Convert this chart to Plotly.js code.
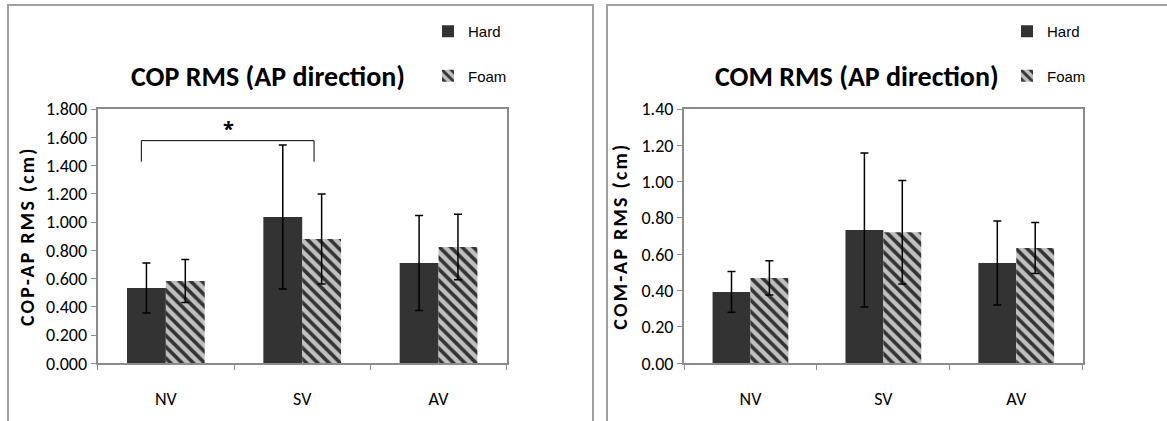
<!DOCTYPE html>
<html>
<head>
<meta charset="utf-8">
<script src="https://cdn.plot.ly/plotly-3.0.1.min.js"></script>
<style>html,body{margin:0;padding:0;background:#fff;}#chart{width:1167px;height:421px;}
text.ytitle, text.y2title {letter-spacing: 2.2px;}</style>
</head>
<body>
<div id="chart"></div>
<script>
// ---- data ----
const categories = ['NV', 'SV', 'AV'];
const seriesNames = ['Hard', 'Foam'];
const copHard = [0.533, 1.036, 0.710];
const copHardSD = [0.177, 0.510, 0.336];
const copFoam = [0.583, 0.880, 0.823];
const copFoamSD = [0.152, 0.318, 0.232];
const comHard = [0.393, 0.734, 0.552];
const comHardSD = [0.112, 0.424, 0.231];
const comFoam = [0.470, 0.721, 0.635];
const comFoamSD = [0.094, 0.285, 0.140];
const titles = ['COP RMS (AP direction)', 'COM RMS (AP direction)'];
const yTitles = ['COP-AP RMS (cm)', 'COM-AP RMS (cm)'];
const sigLabel = '*';

// ---- styles ----
const W = 1167, H = 421;
const px = v => v / W, py = v => 1 - v / H;
const FONT = "Carlito, 'Open Sans', sans-serif";
const tickFont = {family: FONT, size: 18, color: '#000'};
const hardColor = '#333333';
const foamPattern = {shape: '\\', fgcolor: '#333333', bgcolor: '#c0c0c0', size: 8, solidity: 0.45, fillmode: 'replace'};
const errStyle = {type: 'data', visible: true, color: '#000', thickness: 1.5, width: 4};

function hardTrace(y, sd, xa, ya, lg) {
  return {type: 'bar', name: seriesNames[0], x: categories, y: y, xaxis: xa, yaxis: ya,
    marker: {color: hardColor, line: {width: 0}}, legend: lg, legendgroup: lg + 'h',
    error_y: Object.assign({array: sd}, errStyle)};
}
function foamTrace(y, sd, xa, ya, lg) {
  return {type: 'bar', name: seriesNames[1], x: categories, y: y, xaxis: xa, yaxis: ya,
    marker: {color: '#c0c0c0', pattern: foamPattern, line: {width: 0}}, legend: lg, legendgroup: lg + 'f',
    error_y: Object.assign({array: sd}, errStyle)};
}

const data = [
  hardTrace(copHard, copHardSD, 'x', 'y', 'legend'),
  foamTrace(copFoam, copFoamSD, 'x', 'y', 'legend'),
  hardTrace(comHard, comHardSD, 'x2', 'y2', 'legend2'),
  foamTrace(comFoam, comFoamSD, 'x2', 'y2', 'legend2')
];

const xCommon = {type: 'category', showline: true, linecolor: '#8c8c8c', linewidth: 2, mirror: true,
  ticks: 'outside', tickson: 'boundaries', ticklen: 5, tickcolor: '#8c8c8c', tickwidth: 1,
  tickfont: tickFont, ticklabelstandoff: 18, showgrid: false, zeroline: false, fixedrange: true};
const yCommon = {showline: true, linecolor: '#8c8c8c', linewidth: 2, mirror: true,
  ticks: 'outside', ticklen: 5, tickcolor: '#8c8c8c', tickwidth: 1, dtick: 0.2,
  tickfont: tickFont, showgrid: false, zeroline: false, fixedrange: true};
const yTitleFont = {family: FONT, size: 20, color: '#000', weight: 'bold'};

const legendCommon = {font: {family: "'Liberation Sans Narrow', 'Liberation Sans', sans-serif", size: 15, color: '#000'},
  xanchor: 'left', yanchor: 'top', tracegroupgap: 22, bgcolor: 'rgba(0,0,0,0)', itemwidth: 30, traceorder: 'grouped'};

const layout = {
  width: W, height: H,
  margin: {l: 0, r: 0, t: 0, b: 0},
  paper_bgcolor: '#fff', plot_bgcolor: '#fff',
  barmode: 'group', bargap: 0.43, bargroupgap: 0,
  showlegend: true,
  xaxis: Object.assign({domain: [px(97.7), px(506.7)], anchor: 'y'}, xCommon),
  yaxis: Object.assign({domain: [py(363.3), py(109)], anchor: 'x', range: [0, 1.8], tickformat: '.3f',
    title: {text: yTitles[0], font: yTitleFont, standoff: 6}}, yCommon),
  xaxis2: Object.assign({domain: [px(684), px(1082.7)], anchor: 'y2'}, xCommon),
  yaxis2: Object.assign({domain: [py(363.3), py(109)], anchor: 'x2', range: [0, 1.4], tickformat: '.2f',
    title: {text: yTitles[1], font: yTitleFont, standoff: 8}}, yCommon),
  legend: Object.assign({x: px(428), y: py(15)}, legendCommon),
  legend2: Object.assign({x: px(1007), y: py(15)}, legendCommon),
  annotations: [
    {xref: 'paper', yref: 'paper', x: px(268), y: py(77), xanchor: 'center', yanchor: 'middle', text: titles[0], showarrow: false,
      font: {family: FONT, size: 28, color: '#000', weight: 'bold'}},
    {xref: 'paper', yref: 'paper', x: px(857), y: py(77), xanchor: 'center', yanchor: 'middle', text: titles[1], showarrow: false,
      font: {family: FONT, size: 28, color: '#000', weight: 'bold'}},
    {xref: 'x', yref: 'y', x: 0.456, y: 1.66, text: sigLabel, showarrow: false,
      font: {family: "'Open Sans', sans-serif", size: 20, color: '#000', weight: 'bold'}}
  ],
  shapes: [
    // panel borders
    {type: 'rect', xref: 'paper', yref: 'paper', x0: px(8), x1: px(593), y0: py(440), y1: py(5),
      line: {color: '#a0a0a0', width: 2}, fillcolor: 'rgba(0,0,0,0)', layer: 'below'},
    {type: 'rect', xref: 'paper', yref: 'paper', x0: px(607), x1: px(1190), y0: py(440), y1: py(5),
      line: {color: '#a0a0a0', width: 2}, fillcolor: 'rgba(0,0,0,0)', layer: 'below'},
    // significance bracket
    {type: 'path', xref: 'x', yref: 'y', path: 'M -0.18 1.427 L -0.18 1.576 L 1.087 1.576 L 1.087 1.427',
      line: {color: '#000', width: 1}}
  ]
};

Plotly.newPlot('chart', data, layout, {displayModeBar: false, staticPlot: true});
</script>
</body>
</html>
